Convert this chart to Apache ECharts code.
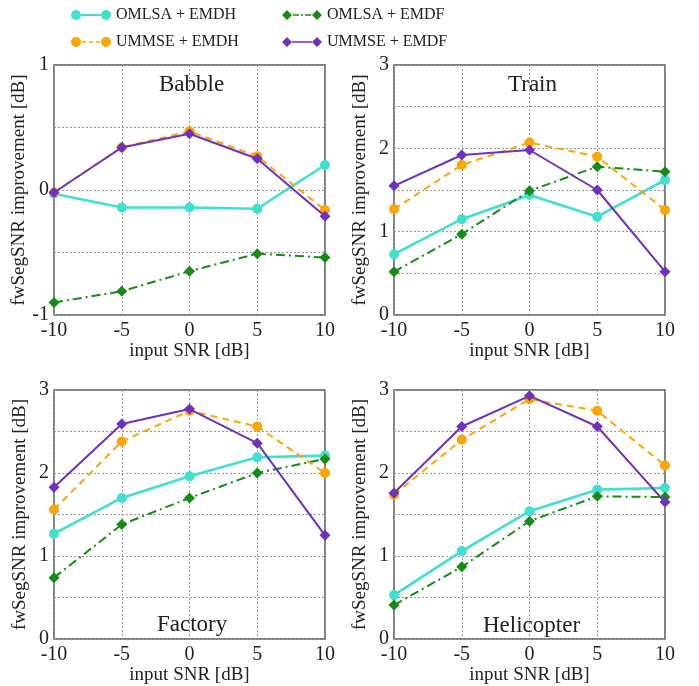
<!DOCTYPE html>
<html>
<head>
<meta charset="utf-8">
<script src="https://cdn.jsdelivr.net/npm/echarts@6/dist/echarts.min.js"></script>
<style>
html,body{margin:0;padding:0;background:#fff;}
#chart{width:699px;height:686px;}
</style>
</head>
<body>
<div id="chart"></div>
<script>
// ---- data ----
const snrLevels = [-10, -5, 0, 5, 10];
const panelNames = ['Babble', 'Train', 'Factory', 'Helicopter'];
const seriesNames = ['OMLSA + EMDH', 'OMLSA + EMDF', 'UMMSE + EMDH', 'UMMSE + EMDF'];

const babbleOmlsaEmdh = [-0.03, -0.14, -0.14, -0.15, 0.2];
const babbleOmlsaEmdf = [-0.9, -0.81, -0.65, -0.51, -0.54];
const babbleUmmseEmdh = [-0.02, 0.34, 0.47, 0.27, -0.16];
const babbleUmmseEmdf = [-0.02, 0.34, 0.45, 0.25, -0.21];

const trainOmlsaEmdh = [0.73, 1.15, 1.44, 1.18, 1.62];
const trainOmlsaEmdf = [0.52, 0.97, 1.49, 1.78, 1.72];
const trainUmmseEmdh = [1.27, 1.8, 2.07, 1.9, 1.26];
const trainUmmseEmdf = [1.55, 1.92, 1.98, 1.5, 0.52];

const factoryOmlsaEmdh = [1.27, 1.7, 1.96, 2.19, 2.21];
const factoryOmlsaEmdf = [0.74, 1.38, 1.7, 2.0, 2.17];
const factoryUmmseEmdh = [1.56, 2.38, 2.75, 2.56, 2.0];
const factoryUmmseEmdf = [1.83, 2.59, 2.77, 2.36, 1.25];

const heliOmlsaEmdh = [0.53, 1.06, 1.54, 1.8, 1.82];
const heliOmlsaEmdf = [0.41, 0.87, 1.42, 1.72, 1.71];
const heliUmmseEmdh = [1.74, 2.4, 2.89, 2.75, 2.09];
const heliUmmseEmdf = [1.76, 2.56, 2.93, 2.56, 1.65];

const panelData = [
  [babbleOmlsaEmdh, babbleOmlsaEmdf, babbleUmmseEmdh, babbleUmmseEmdf],
  [trainOmlsaEmdh, trainOmlsaEmdf, trainUmmseEmdh, trainUmmseEmdf],
  [factoryOmlsaEmdh, factoryOmlsaEmdf, factoryUmmseEmdh, factoryUmmseEmdf],
  [heliOmlsaEmdh, heliOmlsaEmdf, heliUmmseEmdh, heliUmmseEmdf]
];
const yRanges = [[-1, 1], [0, 3], [0, 3], [0, 3]];
const xTickLabels = ['-10', '-5', '0', '5', '10'];

// ---- styles ----
const FONT = 'Liberation Serif';
const colors = ['#40E0D0', '#168C16', '#FFA500', '#7030C0'];
const lineTypes = ['solid', [9, 4, 2, 4], [7, 5], 'solid'];
const lineWidths = [2.6, 2, 2, 2];
const symbols = ['circle', 'diamond', 'circle', 'diamond'];
const symbolSizes = [10, 11, 10, 11];

const icons = [
  'path://M0,5a5,5 0 1,0 10,0a5,5 0 1,0 -10,0Z M30,5a5,5 0 1,0 10,0a5,5 0 1,0 -10,0Z M10,4L30,4L30,6L10,6Z',
  'path://M5,0L10,5L5,10L0,5Z M35,0L40,5L35,10L30,5Z M11,4.2L17,4.2L17,5.8L11,5.8Z M19,4.2L21,4.2L21,5.8L19,5.8Z M23,4.2L29,4.2L29,5.8L23,5.8Z',
  'path://M0,5a5,5 0 1,0 10,0a5,5 0 1,0 -10,0Z M30,5a5,5 0 1,0 10,0a5,5 0 1,0 -10,0Z M11,4.2L15,4.2L15,5.8L11,5.8Z M18,4.2L22,4.2L22,5.8L18,5.8Z M25,4.2L29,4.2L29,5.8L25,5.8Z',
  'path://M5,0L10,5L5,10L0,5Z M35,0L40,5L35,10L30,5Z M10,4.2L30,4.2L30,5.8L10,5.8Z'
];

const gridPos = [
  {left: 54, top: 65}, {left: 394, top: 65},
  {left: 54, top: 390}, {left: 394, top: 390}
];
const titlePos = [
  {left: 159, top: 73}, {left: 508, top: 73},
  {left: 157, top: 613}, {left: 483, top: 614}
];

const grids = [], xAxes = [], yAxes = [], series = [], titles = [];
for (let p = 0; p < 4; p++) {
  grids.push({left: gridPos[p].left, top: gridPos[p].top, width: 271, height: 250,
    show: true, borderColor: '#555', borderWidth: 1.5, backgroundColor: 'transparent'});
  xAxes.push({
    type: 'value', gridIndex: p, min: -10, max: 10, interval: 5,
    name: 'input SNR [dB]', nameLocation: 'middle', nameGap: 26,
    nameTextStyle: {fontFamily: FONT, fontSize: 19, color: '#222'},
    axisLine: {show: false}, axisTick: {show: false},
    axisLabel: {fontFamily: FONT, fontSize: 20, color: '#222', margin: 6,
      formatter: v => xTickLabels[snrLevels.indexOf(v)] ?? ''},
    splitLine: {show: true, lineStyle: {color: '#999', type: [2, 2], width: 1}}
  });
  yAxes.push({
    type: 'value', gridIndex: p, min: yRanges[p][0], max: yRanges[p][1], interval: 0.5,
    name: 'fwSegSNR improvement [dB]', nameLocation: 'middle', nameGap: 24,
    nameTextStyle: {fontFamily: FONT, fontSize: 19, color: '#222'},
    axisLine: {show: false}, axisTick: {show: false},
    axisLabel: {fontFamily: FONT, fontSize: 20, color: '#222', margin: 5,
      formatter: v => Number.isInteger(v) ? String(v) : ''},
    splitLine: {show: true, lineStyle: {color: '#999', type: [2, 2], width: 1}}
  });
  titles.push({text: panelNames[p], left: titlePos[p].left, top: titlePos[p].top, padding: 0,
    textStyle: {fontFamily: FONT, fontSize: 23, fontWeight: 'normal', color: '#222'}});
  for (let s = 0; s < 4; s++) {
    series.push({
      name: seriesNames[s], type: 'line', xAxisIndex: p, yAxisIndex: p,
      data: snrLevels.map((x, i) => [x, panelData[p][s][i]]),
      symbol: symbols[s], symbolSize: symbolSizes[s],
      itemStyle: {color: colors[s]},
      lineStyle: {color: colors[s], width: lineWidths[s], type: lineTypes[s]},
      z: 2 + s, animation: false
    });
  }
}

const legendText = {fontFamily: FONT, fontSize: 16, color: '#222'};
const option = {
  backgroundColor: '#fff',
  animation: false,
  title: titles,
  legend: [
    {left: 66, top: 2, orient: 'vertical', itemGap: 11, itemWidth: 40, itemHeight: 10,
      textStyle: legendText, selectedMode: false,
      data: [{name: seriesNames[0], icon: icons[0]}, {name: seriesNames[2], icon: icons[2]}]},
    {left: 277, top: 2, orient: 'vertical', itemGap: 11, itemWidth: 40, itemHeight: 10,
      textStyle: legendText, selectedMode: false,
      data: [{name: seriesNames[1], icon: icons[1]}, {name: seriesNames[3], icon: icons[3]}]}
  ],
  grid: grids, xAxis: xAxes, yAxis: yAxes, series: series
};
const chart = echarts.init(document.getElementById('chart'), null, {renderer: 'canvas'});
chart.setOption(option);
</script>
</body>
</html>
